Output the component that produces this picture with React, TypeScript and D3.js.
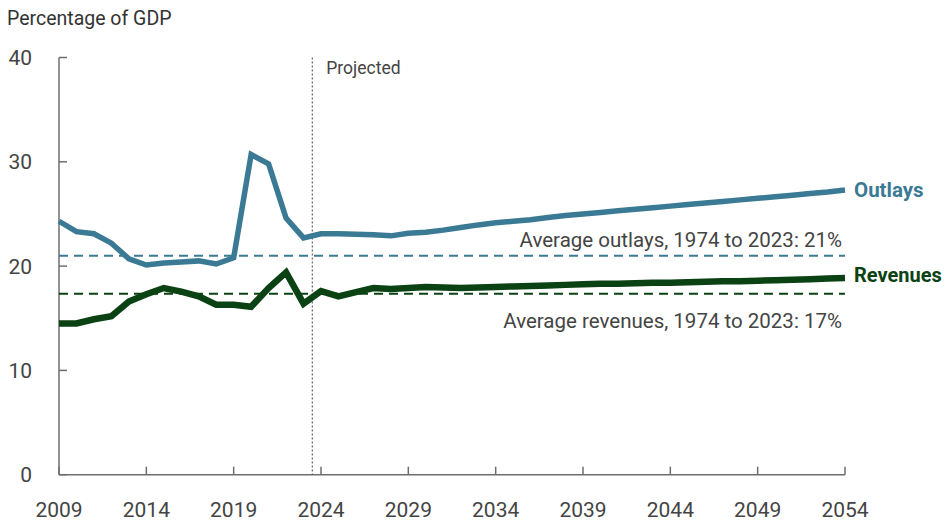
import React from "react";
import * as d3 from "d3";

const years: number[] = d3.range(2009, 2055);
const outlays: number[] = [
  24.3, 23.3, 23.1, 22.2, 20.7, 20.1, 20.3, 20.4, 20.5, 20.2,
  20.8, 30.7, 29.8, 24.6, 22.7, 23.1, 23.1, 23.05, 23.0, 22.9,
  23.15, 23.25, 23.45, 23.7, 23.95, 24.15, 24.3, 24.45, 24.65, 24.85,
  25.0, 25.15, 25.3, 25.45, 25.6, 25.75, 25.9, 26.05, 26.2, 26.35,
  26.5, 26.65, 26.8, 26.95, 27.1, 27.3,
];
const revenues: number[] = [
  14.5, 14.5, 14.9, 15.2, 16.6, 17.3, 17.9, 17.55, 17.1, 16.3,
  16.3, 16.1, 17.9, 19.4, 16.4, 17.6, 17.1, 17.5, 17.9, 17.8,
  17.9, 18.0, 17.95, 17.9, 17.95, 18.0, 18.05, 18.1, 18.15, 18.2,
  18.25, 18.3, 18.3, 18.35, 18.4, 18.4, 18.45, 18.5, 18.55, 18.55,
  18.6, 18.65, 18.7, 18.75, 18.8, 18.85,
];
const avgOutlays = 21.0;
const avgRevenues = 17.35;
const projectedYear = 2023.5;
const xTicks: number[] = [2009, 2014, 2019, 2024, 2029, 2034, 2039, 2044, 2049, 2054];
const yTicks: number[] = [0, 10, 20, 30, 40];

const W = 946;
const H = 522;
const FONT = "Roboto, 'Open Sans', sans-serif";
const OUT_COLOR = "#3b7a95";
const REV_COLOR = "#0b4213";
const AXIS = "#6e6e6e";
const TEXT = "#444";

export default function App() {
  const x = d3.scaleLinear().domain([2009, 2054]).range([59, 845]);
  const y = d3.scaleLinear().domain([0, 40]).range([474.7, 57.5]);
  const line = d3
    .line<number>()
    .x((_, i) => x(years[i]))
    .y((d) => y(d))
    .curve(d3.curveLinear);

  return (
    <svg
      width={W}
      height={H}
      style={{ position: "absolute", left: 0, top: 0, display: "block", background: "#fff" }}
      fontFamily={FONT}
    >
      <text x={7} y={25} fontSize={19.5} fill="#333">
        Percentage of GDP
      </text>

      {/* y axis */}
      <line x1={x(2009)} x2={x(2009)} y1={y(40)} y2={y(0)} stroke={AXIS} strokeWidth={1.5} />
      {yTicks.map((t) => (
        <g key={t}>
          <line x1={x(2009)} x2={x(2009) + 8} y1={y(t)} y2={y(t)} stroke={AXIS} strokeWidth={1.5} />
          <text x={32} y={y(t) + 7.5} fontSize={21} textAnchor="end" fill={TEXT}>
            {t}
          </text>
        </g>
      ))}

      {/* x axis */}
      <line x1={x(2009)} x2={x(2054)} y1={y(0)} y2={y(0)} stroke={AXIS} strokeWidth={1.5} />
      {xTicks.map((t) => (
        <g key={t}>
          <line x1={x(t)} x2={x(t)} y1={y(0)} y2={y(0) - 8} stroke={AXIS} strokeWidth={1.5} />
          <text x={x(t)} y={517} fontSize={21} textAnchor="middle" fill={TEXT}>
            {t}
          </text>
        </g>
      ))}

      {/* projected divider */}
      <line
        x1={x(projectedYear)}
        x2={x(projectedYear)}
        y1={y(40)}
        y2={y(0)}
        stroke="#444"
        strokeWidth={1}
        strokeDasharray="2,2"
      />
      <text x={x(projectedYear) + 14} y={74} fontSize={17.5} fill={TEXT}>
        Projected
      </text>

      {/* averages */}
      <line
        x1={x(2009)}
        x2={x(2054)}
        y1={y(avgOutlays)}
        y2={y(avgOutlays)}
        stroke={OUT_COLOR}
        strokeWidth={2}
        strokeDasharray="9,6"
      />
      <line
        x1={x(2009)}
        x2={x(2054)}
        y1={y(avgRevenues)}
        y2={y(avgRevenues)}
        stroke={REV_COLOR}
        strokeWidth={2}
        strokeDasharray="9,6"
      />
      <text x={842} y={y(avgOutlays) - 9} fontSize={20.5} textAnchor="end" fill={TEXT}>
        Average outlays, 1974 to 2023: 21%
      </text>
      <text x={842} y={y(avgRevenues) + 34} fontSize={20.5} textAnchor="end" fill={TEXT}>
        Average revenues, 1974 to 2023: 17%
      </text>

      {/* series */}
      <path d={line(outlays) ?? ""} fill="none" stroke={OUT_COLOR} strokeWidth={5.5} strokeLinejoin="miter" />
      <path d={line(revenues) ?? ""} fill="none" stroke={REV_COLOR} strokeWidth={6.5} strokeLinejoin="miter" />

      <text x={854} y={y(outlays[outlays.length - 1]) + 7} fontSize={20.5} fontWeight="bold" fill={OUT_COLOR}>
        Outlays
      </text>
      <text x={854} y={y(revenues[revenues.length - 1]) + 4} fontSize={20} fontWeight="bold" fill={REV_COLOR}>
        Revenues
      </text>
    </svg>
  );
}
